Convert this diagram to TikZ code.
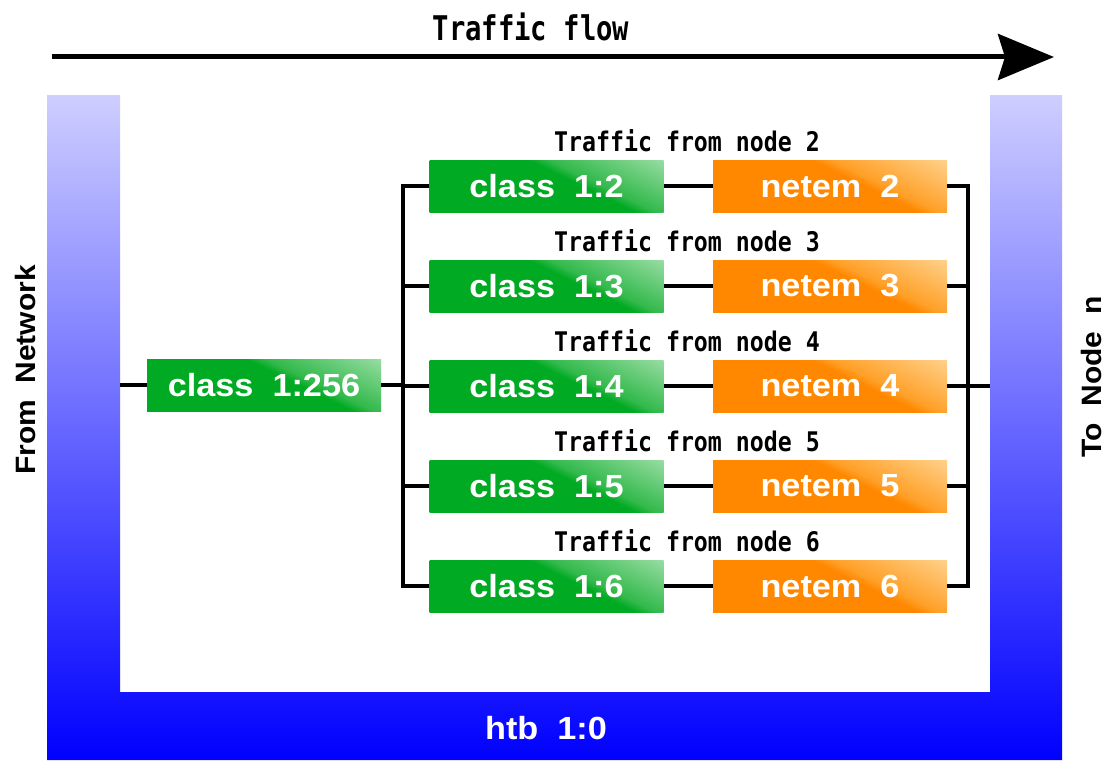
\documentclass[tikz,border=0pt]{standalone}
\usepackage{fontspec}
\usetikzlibrary{arrows.meta}
\newfontfamily\boxfont{Liberation Sans}[FakeStretch=1.07]
\newfontfamily\gothfont{DejaVu Sans Mono}[FakeStretch=0.86]
\newfontfamily\headfont{DejaVu Sans Mono}[FakeStretch=0.8]

\definecolor{gbase}{RGB}{0,170,34}
\definecolor{gmid}{RGB}{50,185,75}
\definecolor{glite}{RGB}{225,246,225}
\definecolor{obase}{RGB}{255,136,0}
\definecolor{omid}{RGB}{255,160,40}
\definecolor{olite}{RGB}{255,244,210}
\definecolor{utop}{RGB}{206,206,255}
\definecolor{ubot}{RGB}{0,0,255}

% glossy fills: flat colour with a light corner at the upper right
\pgfdeclarehorizontalshading{greenshine}{100bp}{color(0bp)=(gbase); color(57bp)=(gbase); color(61bp)=(gmid); color(100bp)=(glite)}
\pgfdeclarehorizontalshading{orangeshine}{100bp}{color(0bp)=(obase); color(57bp)=(obase); color(61bp)=(omid); color(100bp)=(olite)}

\tikzset{
  qbox/.style={minimum width=234pt, minimum height=52pt, inner sep=0pt,
    text=white, font=\boxfont\bfseries\fontsize{32}{36}\selectfont},
  gbox/.style={qbox, shade, shading=greenshine, shading angle=64},
  obox/.style={qbox, shade, shading=orangeshine, shading angle=64},
  lbl/.style={font=\gothfont\bfseries\fontsize{27}{30}\selectfont, inner sep=0pt},
  side/.style={font=\boxfont\bfseries\fontsize{28}{30}\selectfont, inner sep=0pt, rotate=90},
  wire/.style={line width=4.5pt, line join=miter}
}

\begin{document}
\begin{tikzpicture}[x=1pt, y=-1pt]
\useasboundingbox (0,0) rectangle (1105,760);

% traffic-flow arrow and its heading
\coordinate (fa) at (52,57);
\coordinate (fb) at (1054,57);
\draw[line width=5pt, -{Stealth[length=56pt, width=46pt, inset=7pt]}] (fa) -- (fb);
\node[font=\headfont\bfseries\fontsize{34}{38}\selectfont, inner sep=0pt] (flow) at (531,27) {Traffic flow};

% htb root qdisc drawn as a U-shaped frame
\shade[top color=utop, bottom color=ubot]
  (47,95) -- (120,95) -- (120,692) -- (990,692) -- (990,95) -- (1062,95)
  -- (1062,760) -- (47,760) -- cycle;
\node[font=\boxfont\bfseries\fontsize{32}{36}\selectfont, text=white, inner sep=0pt] (htb) at (546,728) {htb~~1:0};

\node[side] (from) at (25,370) {From~~Network};
\node[side] (to) at (1091,377) {To~~Node~~n};

% root class
\node[gbox] (c256) at (264,385) {class~~1:256};

% per-node classes and netem qdiscs
\foreach \k/\y in {2/186,3/286,4/386,5/486,6/586}{
  \node[gbox] (c\k) at (546.5,\y) {class~~1:\k};
  \node[obox] (n\k) at (830,\y) {netem~~\k};
  \node[lbl] (t\k) at (687,\y-45) {Traffic from node \k};
}

% wiring
\coordinate (inL) at (120,385);
\coordinate (busL) at (403,385);
\coordinate (busR) at (968,386);
\coordinate (outR) at (990,386);
\draw[wire] (inL) -- (c256.west);
\draw[wire] (c256.east) -- (busL);
\draw[wire] (busR) -- (outR);
\foreach \k in {2,3,4,5,6}{
  \draw[wire] (c\k.west) -| (busL);
  \draw[wire] (n\k.east) -| (busR);
  \draw[wire] (c\k.east) -- (n\k.west);
}
\end{tikzpicture}
\end{document}
